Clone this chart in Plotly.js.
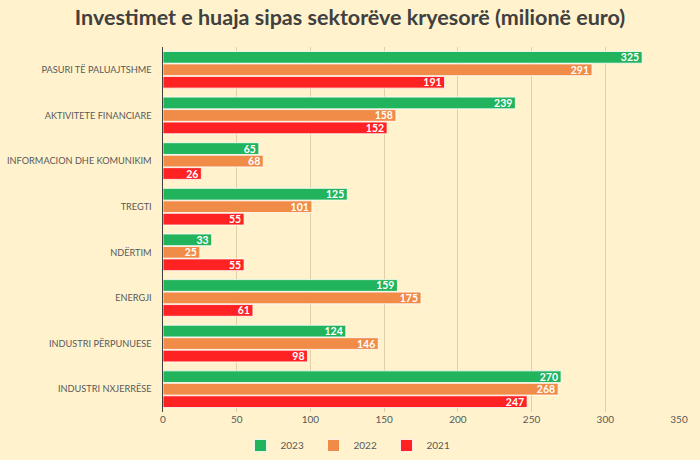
<!DOCTYPE html>
<html><head><meta charset="utf-8">
<script src="https://cdn.plot.ly/plotly-3.0.1.min.js"></script>
<style>body{margin:0;background:#FFF2CC}</style>
</head><body>
<div id="chart" style="width:700px;height:460px"></div>
<script>
const sectors = ["PASURI TË PALUAJTSHME","AKTIVITETE FINANCIARE","INFORMACION DHE KOMUNIKIM","TREGTI","NDËRTIM","ENERGJI","INDUSTRI PËRPUNUESE","INDUSTRI NXJERRËSE"];
const years = ["2023","2022","2021"];
const v2023 = [325,239,65,125,33,159,124,270];
const v2022 = [291,158,68,101,25,175,146,268];
const v2021 = [191,152,26,55,55,61,98,247];
const series = [v2023, v2022, v2021];
const colors = ["#22B45C","#F08C48","#FF2222"];

const traces = series.map((vals,i)=>({
  type:'bar', orientation:'h', name:years[i],
  y:sectors, x:vals, text:vals.map(String),
  textposition:'inside', insidetextanchor:'end', textangle:0,
  textfont:{family:'Lato, sans-serif', size:10.5, color:'#FFFFFF', weight:'bold'},
  marker:{color:colors[i], line:{color:'#FFFFFF', width:0.8}},
  hoverinfo:'x+name'
}));

const layout = {
  width:700, height:460,
  paper_bgcolor:'#FFF2CC', plot_bgcolor:'#FFF2CC',
  margin:{l:163, r:21, t:47, b:48, autoexpand:false},
  title:{text:'Investimet e huaja sipas sektorëve kryesorë (milionë euro)', x:0.5, xanchor:'center', y:0.962, yanchor:'middle',
    font:{family:'Lato, sans-serif', size:21.5, color:'#404040', weight:'bold'}},
  barmode:'group', bargap:0.18, bargroupgap:0.06,
  uniformtext:{mode:'show', minsize:10},
  xaxis:{range:[0,350], dtick:50, showgrid:true, gridcolor:'#E2CFA6', gridwidth:1,
    zeroline:false, tickfont:{family:'Lato, sans-serif', size:10, color:'#595959'}, ticks:'', fixedrange:true},
  yaxis:{autorange:'reversed', showline:true, linecolor:'#404040', linewidth:1.5,
    tickfont:{family:'Lato, sans-serif', size:9.2, color:'#595959'}, ticks:'', ticklabelstandoff:8},
  legend:{orientation:'h', x:0.5, xanchor:'center', xref:'container', yref:'container', y:0.0, yanchor:'bottom',
    font:{family:'Lato, sans-serif', size:10, color:'#595959'}, itemwidth:30, entrywidth:28, entrywidthmode:'pixels',
    traceorder:'normal', tracegroupgap:0},
  showlegend:true
};
Plotly.newPlot('chart', traces, layout, {displayModeBar:false, staticPlot:true});
</script>
</body></html>
